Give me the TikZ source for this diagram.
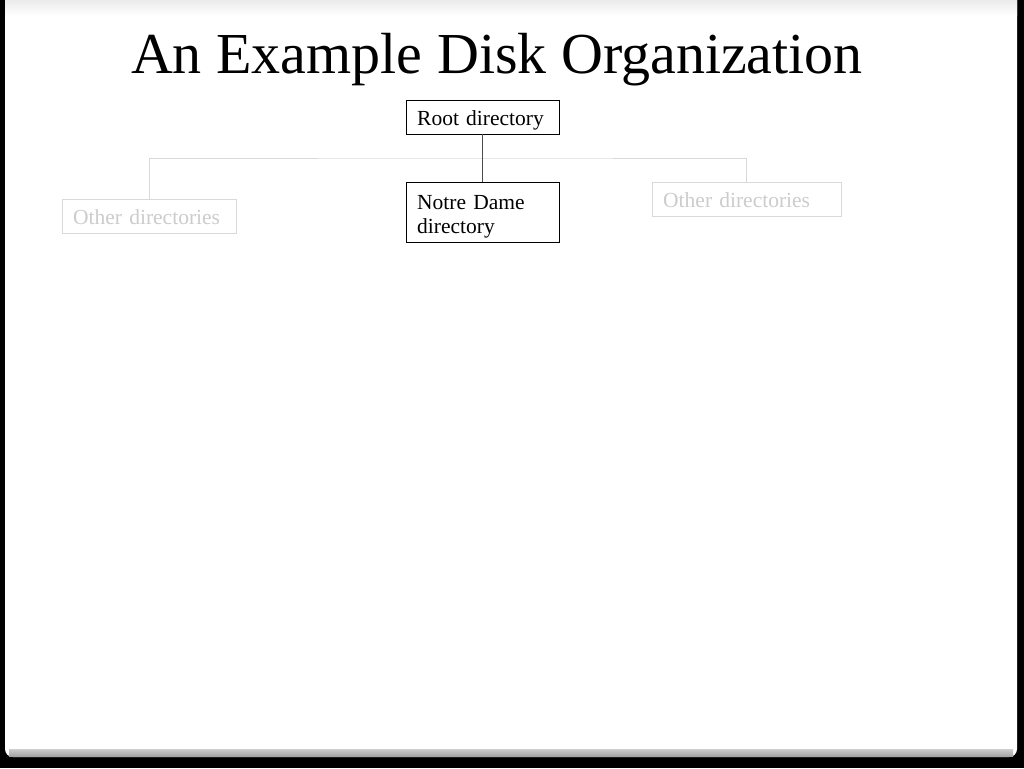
\documentclass[tikz,border=0pt]{standalone}
\usepackage{fontspec}
\setmainfont{Liberation Serif}
\tikzset{
  basebox/.style={draw=black, anchor=north west, align=left, inner xsep=11pt,
    inner ysep=4pt, font=\fontsize{21.5}{24}\selectfont},
  dirbox/.style={basebox, text height=21pt, text depth=4pt},
  otherbox/.style={dirbox, draw=black!15, text=black!20},
  faint/.style={draw=black!15, line width=1pt}
}
\begin{document}
\begin{tikzpicture}[x=1pt, y=-1pt]
\useasboundingbox (0,0) rectangle (1024,768);

% Slide frame
\fill[black] (0,0) rectangle (1024,768);
\fill[white, rounded corners=8pt] (5,-20) rectangle (1017,757);
\shade[top color=black!8, bottom color=white] (5,0) rectangle (1017,16);
\shade[top color=black!15, bottom color=black!35] (9,747) rectangle (1013,756);
\fill[white] (9,745) rectangle (1013,749);

% Title
\node[anchor=base, font=\fontsize{58}{60}\selectfont] (title) at (497,73) {An Example Disk Organization};

% Directories
\node[dirbox, text width=131pt, minimum height=34pt] (root) at (406,100) {Root directory};
\node[basebox, text width=131pt, minimum height=59pt] (notre) at (406,182) {\rule{0pt}{23pt}Notre Dame\\directory};
\node[otherbox, text width=152pt, minimum height=34pt] (otherL) at (62,199) {Other directories};
\node[otherbox, text width=167pt, minimum height=34pt] (otherR) at (652,182) {Other directories};

% Links
\coordinate (bus) at (483,158);
\draw[faint] (otherL.north) |- (bus) -| (otherR.north);
\draw[black!70, line width=1pt] (root.south) -- (notre.north);

\end{tikzpicture}
\end{document}
